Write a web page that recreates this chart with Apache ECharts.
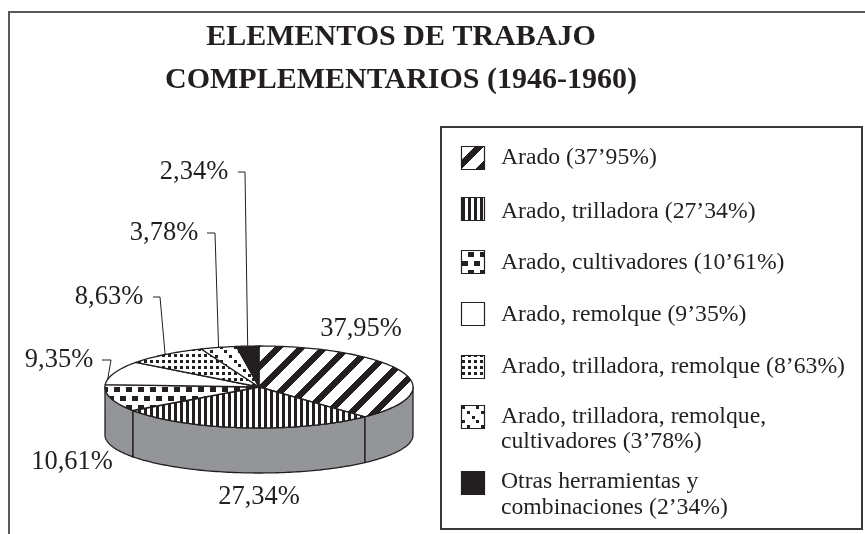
<!DOCTYPE html>
<html><head><meta charset="utf-8">
<style>html,body{margin:0;padding:0;background:#fff}#c{width:865px;height:534px}</style>
<script src="https://cdn.jsdelivr.net/npm/echarts@6/dist/echarts.min.js"></script>
</head><body><div id="c"></div>
<script>
const titleLines = ['ELEMENTOS DE TRABAJO', 'COMPLEMENTARIOS (1946-1960)'];
const sliceValues = [37.95, 27.34, 10.61, 9.35, 8.63, 3.78, 2.34];
const sliceLabels = ['37,95%', '27,34%', '10,61%', '9,35%', '8,63%', '3,78%', '2,34%'];
const legendLabels = [
  "Arado (37’95%)",
  "Arado, trilladora (27’34%)",
  "Arado, cultivadores (10’61%)",
  "Arado, remolque (9’35%)",
  "Arado, trilladora, remolque (8’63%)",
  "Arado, trilladora, remolque,\ncultivadores (3’78%)",
  "Otras herramientas y\ncombinaciones (2’34%)"
];

const INK = '#231f20', GREY = '#939598', FONT = '"Liberation Serif","Times New Roman",serif';
const labelPos = [[361,329],[259,497],[72,462],[59,360],[109,297],[164,233],[194,172]];
const leaders = [null, null, null,
  [[102,360],[111,360]], [[153,297],[160,297]], [[207,233],[215,233]], [[238,172],[245,172]]];
const leaderShare = [0,0,0,0.22,0.5,0.5,0.5];
const swatchY = [146,197,250,302,355,405,471];
const legendY = [158,212,263,315,367,429.5,495];

function tile(w,h,paint){
  const c=document.createElement('canvas');c.width=w;c.height=h;
  const g=c.getContext('2d');g.fillStyle='#fff';g.fillRect(0,0,w,h);g.fillStyle=INK;paint(g);
  return {image:c,repeat:'repeat'};
}
const fills = [
  tile(23,23,g=>{for(let x=0;x<23;x++)for(let y=0;y<23;y++)if((x+y)%23<9)g.fillRect(x,y,1,1);}),
  tile(6,6,g=>{g.fillRect(0,0,3,6);}),
  tile(12,18,g=>{g.fillRect(0,0,6,5);g.fillRect(6,9,6,5);}),
  '#fff',
  tile(6,6,g=>{g.fillRect(0,0,3,3);}),
  tile(14,14,g=>{for(let i=0;i<3;i++)g.fillRect(i*5,i*5,3,3);}),
  INK
];

const cx=259, cyTop=387, rx=154, ryTop=41, cyBot=435, ryBot=38;
const total = sliceValues.reduce((a,b)=>a+b,0);
const TWO_PI=Math.PI*2;
const topPt=t=>[cx+rx*Math.sin(t), cyTop-ryTop*Math.cos(t)];
const botPt=t=>[cx+rx*Math.sin(t), cyBot-ryBot*Math.cos(t)];
function arc(fn,a,b){const n=Math.max(2,Math.ceil(Math.abs(b-a)/0.02)),p=[];for(let i=0;i<=n;i++)p.push(fn(a+(b-a)*i/n));return p;}
const starts=[];sliceValues.reduce((s,v,i)=>{starts[i]=s;return s+v;},0);

function renderSlice(params, api){
  const i=params.dataIndex, v=api.value(0);
  const a0=starts[i]/total*TWO_PI, a1=(starts[i]+v)/total*TWO_PI;
  const line={stroke:INK,lineWidth:1.3,lineJoin:'round'};
  const kids=[];
  const s0=Math.max(a0,Math.PI/2), s1=Math.min(a1,Math.PI*1.5);
  if(s1>s0){
    kids.push({type:'polygon',shape:{points:arc(topPt,s0,s1).concat(arc(botPt,s1,s0))},style:Object.assign({fill:GREY},line)});
  }
  kids.push({type:'polygon',shape:{points:[[cx,cyTop]].concat(arc(topPt,a0,a1))},style:Object.assign({fill:fills[i]},line)});
  if(leaders[i]){
    const end=topPt(a0+(a1-a0)*leaderShare[i]);
    kids.push({type:'polyline',shape:{points:leaders[i].concat([end])},style:{fill:null,stroke:INK,lineWidth:1}});
  }
  kids.push({type:'text',style:{text:sliceLabels[i],x:labelPos[i][0],y:labelPos[i][1],align:'center',verticalAlign:'middle',font:'26.5px '+FONT,fill:INK}});
  return {type:'group',children:kids};
}

const graphic=[
  {type:'polyline',shape:{points:[[9,534],[9,12],[865,12]]},style:{fill:null,stroke:'#58595b',lineWidth:2}},
  {type:'rect',shape:{x:441,y:127,width:421,height:402},style:{fill:'#fff',stroke:'#3a3a3c',lineWidth:2}}
];
legendLabels.forEach((t,i)=>{
  graphic.push({type:'rect',shape:{x:461.5,y:swatchY[i]+.5,width:23,height:23},z:5,style:{fill:fills[i],stroke:INK,lineWidth:1.2}});
  graphic.push({type:'text',z:5,style:{text:t,x:501,y:legendY[i],verticalAlign:'middle',align:'left',font:'23.7px '+FONT,lineHeight:25.5,fill:INK}});
});

const chart=echarts.init(document.getElementById('c'),null,{renderer:'canvas'});
chart.setOption({
  animation:false,
  backgroundColor:'#fff',
  title:{text:titleLines.join('\n'),left:396,top:11,textAlign:'center',
    textStyle:{fontFamily:FONT,fontWeight:'bold',fontSize:30,lineHeight:43,color:INK}},
  graphic:graphic,
  series:[{type:'custom',coordinateSystem:'none',silent:true,z:3,renderItem:renderSlice,
    data:sliceValues.map(v=>[v])}]
});
</script></body></html>
